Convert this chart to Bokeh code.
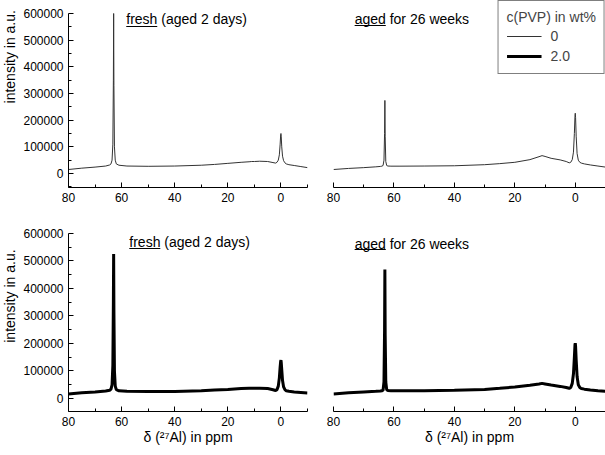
import math
from bokeh.plotting import figure
from bokeh.layouts import column, row
from bokeh.models import (FixedTicker, Label, Legend, LegendItem, Range1d,
                          Arrow, NumeralTickFormatter)
from bokeh.embed import file_html
from bokeh.resources import INLINE

# ---------------- data ----------------
ppm = [80, 75, 70, 66, 64.5, 64, 63.6, 63.3, 63.1, 63.0, 62.9, 62.7, 62.4, 62, 61,
       58, 50, 40, 30, 25, 20, 15, 12, 11, 10, 8, 5, 3, 2, 1.5, 1, 0.6, 0.3, 0.1,
       0, -0.1, -0.3, -0.6, -1, -1.5, -2, -3, -5, -7.5, -10]

fresh_0 = [15000, 20000, 24000, 28000, 32000, 36000, 50000, 110000, 350000, 600000,
           330000, 100000, 50000, 36000, 31000, 28000, 27000, 28000, 31000, 34000,
           38000, 42000, 44000, 45000, 45000, 46000, 45000, 41000, 39000, 42000,
           50000, 70000, 110000, 145000, 150000, 140000, 100000, 65000, 48000,
           40000, 36000, 33000, 30000, 26000, 22000]

aged_0 = [15000, 19000, 22000, 25000, 26500, 27500, 30000, 50000, 150000, 274000,
          140000, 45000, 30000, 28000, 27500, 27500, 28000, 29000, 33000, 37000,
          42000, 52000, 63000, 67000, 64000, 57000, 51000, 45000, 40000, 42000,
          52000, 80000, 150000, 215000, 226000, 210000, 140000, 75000, 50000,
          42000, 39000, 36000, 32000, 28000, 24000]

fresh_2 = [16000, 21000, 24000, 27000, 30000, 34000, 50000, 120000, 350000, 525000,
           320000, 100000, 45000, 32000, 28000, 26000, 25000, 25000, 28000, 31000,
           33000, 36000, 37000, 37000, 37000, 37000, 36000, 32000, 29000, 32000,
           45000, 75000, 115000, 136000, 139000, 132000, 105000, 65000, 42000,
           32000, 28000, 26000, 24000, 22000, 20000]

aged_2 = [16000, 21000, 24000, 26000, 27000, 28000, 30000, 60000, 250000, 469000,
          230000, 60000, 32000, 29000, 28000, 28000, 28000, 30000, 33000, 37000,
          42000, 48000, 53000, 55000, 53000, 49000, 44000, 40000, 37000, 40000,
          55000, 90000, 150000, 195000, 201000, 190000, 140000, 80000, 50000,
          40000, 36000, 34000, 31000, 28000, 26000]

x_ticks = [80, 60, 40, 20, 0]
x_minor = [70, 50, 30, 10, -10]
y_ticks = [0, 100000, 200000, 300000, 400000, 500000, 600000]
y_minor = [-50000, 50000, 150000, 250000, 350000, 450000, 550000]

legend_title = "c(PVP) in wt%"
legend_labels = ["0", "2.0"]
title_fresh = "fresh (aged 2 days)"
title_aged = "aged for 26 weeks"
ylabel = "intensity in a.u."
xlabel = "\u03b4 (\u00b2\u2077Al) in ppm"

FONT = "Liberation Sans"
THIN = dict(line_width=1, line_color="#333333")
THICK = dict(line_width=3, line_color="black")


def base_fig(width, height, **kw):
    p = figure(width=width, height=height, output_backend="svg",
               toolbar_location=None, title=None, **kw)
    p.grid.visible = False
    p.outline_line_color = None
    p.background_fill_color = "white"
    p.border_fill_color = "white"
    return p


def make_fig(width, height, left, right, top, bottom, ylo, yhi, show_y, show_xlabel):
    p = base_fig(width, height, x_range=Range1d(80, -10),
                 y_range=Range1d(ylo, yhi),
                 y_axis_location="left" if show_y else None,
                 min_border_left=left, min_border_right=right,
                 min_border_top=top, min_border_bottom=bottom)
    for ax in p.axis:
        ax.axis_line_color = "black"
        ax.major_tick_line_color = "black"
        ax.minor_tick_line_color = "black"
        ax.major_tick_in = 5
        ax.major_tick_out = 0
        ax.minor_tick_in = 3
        ax.minor_tick_out = 0
        ax.major_label_text_font = FONT
        ax.major_label_text_font_size = "12px"
        ax.major_label_text_color = "black"
        ax.major_label_standoff = 5
    p.xaxis.ticker = FixedTicker(ticks=x_ticks, minor_ticks=x_minor)
    if show_xlabel:
        p.xaxis.axis_label = xlabel
        p.xaxis.axis_label_text_font = FONT
        p.xaxis.axis_label_text_font_size = "14px"
        p.xaxis.axis_label_text_font_style = "normal"
        p.xaxis.axis_label_text_color = "black"
        p.xaxis.axis_label_standoff = 0
    if show_y:
        p.yaxis.ticker = FixedTicker(ticks=y_ticks, minor_ticks=y_minor)
        p.yaxis.formatter = NumeralTickFormatter(format="0")
        p.yaxis.bounds = (ylo, 600000)
    return p


def add_title(p, text, underline_chars, x, y, y_under, px_per_ppm):
    p.add_layout(Label(x=x, y=y, text=text, text_font=FONT,
                       text_font_size="14px", text_align="left",
                       text_baseline="middle", text_color="black"))
    # underline width from text metrics (Arial-like widths, 14px)
    widths = {"f": .278, "r": .333, "e": .556, "s": .5, "h": .556,
              "a": .556, "g": .556, "d": .556}
    w_px = sum(widths[c] for c in underline_chars) * 14
    p.add_layout(Arrow(x_start=x, y_start=y_under,
                       x_end=x - w_px / px_per_ppm, y_end=y_under,
                       start=None, end=None, line_width=1, line_color="black"))


def ylabel_fig(height, y_center_from_top):
    """Narrow strip to the left that carries the rotated y-axis label."""
    p = base_fig(20, height, x_range=Range1d(0, 20), y_range=Range1d(0, height),
                 x_axis_location=None, y_axis_location=None,
                 min_border_left=0, min_border_right=0,
                 min_border_top=0, min_border_bottom=0)
    p.add_layout(Label(x=9, y=height - y_center_from_top, text=ylabel,
                       angle=math.pi / 2, text_font=FONT, text_font_size="14px",
                       text_align="center", text_baseline="middle",
                       text_color="black"))
    return p


L_PX = 240 / 90   # px per ppm, left panels
R_PX = 272 / 90   # px per ppm, right panels
TOP_HI = 648750   # top row frames reach the top edge (600000 sits 13 px lower)

# top-left
lab1 = ylabel_fig(216, 65)
p1 = make_fig(300, 216, 47, 13, 0, 29, -52500, TOP_HI, True, False)
p1.line(ppm, fresh_0, **THIN)
add_title(p1, title_fresh, "fresh", 58.25, 581250, 551250, L_PX)

# top-right
p2 = make_fig(285, 216, 13, 0, 0, 29, -52500, TOP_HI, False, False)
r_thin = p2.line(ppm, aged_0, **THIN)
r_thick = p2.line(x=ppm[:1], y=aged_2[:1], **THICK)   # legend proxy only
add_title(p2, title_aged, "aged", 73, 581250, 555000, R_PX)
legend = Legend(items=[LegendItem(label=legend_labels[0], renderers=[r_thin]),
                       LegendItem(label=legend_labels[1], renderers=[r_thick])],
                location="top_right", title=legend_title,
                title_text_font=FONT, title_text_font_size="14px",
                title_text_font_style="normal", title_standoff=2,
                label_text_font=FONT, label_text_font_size="14px",
                glyph_width=35, glyph_height=18, label_height=18,
                label_standoff=9, padding=8, spacing=2, margin=0,
                border_line_color="black", border_line_width=1,
                background_fill_color="white", background_fill_alpha=1)
p2.add_layout(legend)

# bottom-left
lab3 = ylabel_fig(239, 84)
p3 = make_fig(300, 239, 47, 13, 17, 44, -47300, 600000, True, True)
p3.line(ppm, fresh_2, **THICK)
add_title(p3, title_fresh, "fresh", 57.1, 570900, 545500, L_PX)

# bottom-right
p4 = make_fig(285, 239, 13, 0, 17, 44, -47300, 600000, False, True)
p4.line(ppm, aged_2, **THICK)
add_title(p4, title_aged, "aged", 73, 563600, 541800, R_PX)

layout = column(row(lab1, p1, p2), row(lab3, p3, p4))
open("out.html", "w").write(file_html(layout, INLINE))
